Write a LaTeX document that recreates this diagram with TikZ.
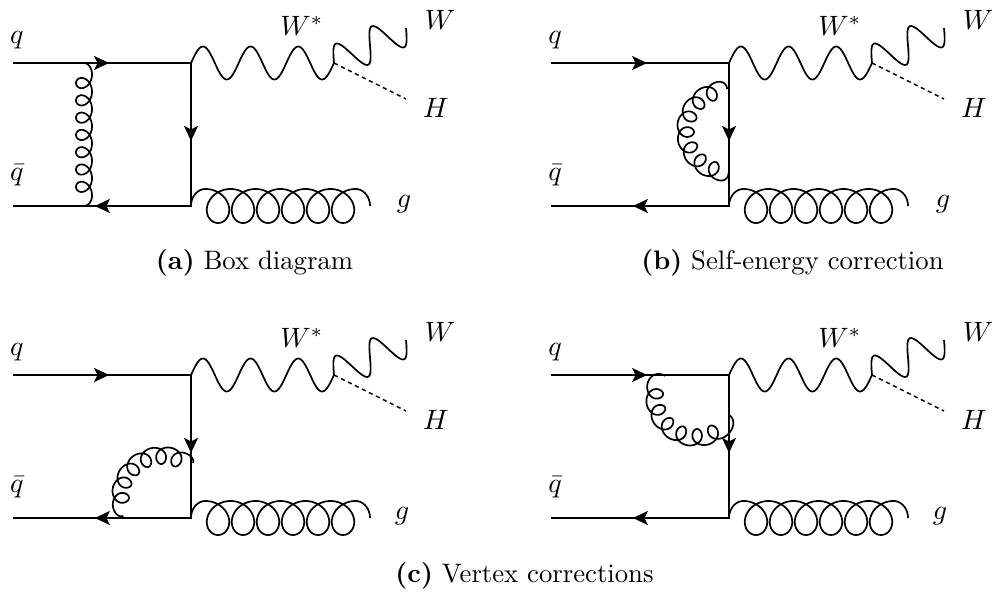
\documentclass[tikz,border=0pt]{standalone}
\usepackage{fontspec}
\usetikzlibrary{calc,arrows.meta}
\tikzset{
  quark/.style={line width=2.1pt},
  qtip/.style={line width=2.1pt,-{Stealth[length=15pt,width=14pt,inset=3.5pt]}},
  gluon/.style={line width=1.7pt,line join=round},
  photon/.style={line width=1.7pt,line join=round},
  higgs/.style={line width=1.5pt,dash pattern=on 4.2pt off 3.6pt},
  lab/.style={scale=2.8,inner sep=0pt},
  captext/.style={scale=2.67,inner sep=0pt,anchor=base}
}
% bottom outgoing gluon
\newcommand{\bottomgluon}{%
  \draw[gluon] plot[domain=-90:0,samples=25] ({205.5+14.5*sin(\x)},{206-17*cos(\x)})
    -- plot[domain=0:2160,samples=361] ({205.5+\x/360*25+17*sin(\x)},{206-17*cos(\x)})
    -- plot[domain=0:90,samples=25] ({355.5+14.5*sin(\x)},{206-17*cos(\x)});}
% #1 cx, #2 cy, #3 first peak angle, #4 step, #5 loops, #6 start angle, #7 end angle, #8 start radius, #9 end radius
\newcommand{\arcgluon}[9]{%
  \pgfmathsetmacro{\lastp}{#3+#4*#5}
  \pgfmathsetmacro{\mainend}{360*#5}
  \pgfmathsetmacro{\nsamp}{60*#5+1}
  \draw[gluon] plot[domain=-90:0,samples=25] ({#1+(#8+(50-#8)*cos(\x))*cos(#3+(#3-#6)*sin(\x))},{#2-(#8+(50-#8)*cos(\x))*sin(#3+(#3-#6)*sin(\x))})
    -- plot[domain=0:\mainend,samples=\nsamp] ({#1+(41.5+8.5*cos(\x))*cos(#3+\x/360*#4+12.3*sin(\x))},{#2-(41.5+8.5*cos(\x))*sin(#3+\x/360*#4+12.3*sin(\x))})
    -- plot[domain=0:90,samples=25] ({#1+(#9+(50-#9)*cos(\x))*cos(\lastp+(#7-\lastp)*sin(\x))},{#2-(#9+(50-#9)*cos(\x))*sin(\lastp+(#7-\lastp)*sin(\x))});}
% common diagram: #1 name prefix, #2 g label x, #3 extra gluon
\newcommand{\feyn}[3]{%
  \coordinate (#1i1) at (13,63);
  \coordinate (#1i2) at (13,206);
  \coordinate (#1v1) at (191,63);
  \coordinate (#1v2) at (191,206);
  \coordinate (#1w) at (334,63);
  \coordinate (#1wf) at (406,28);
  \coordinate (#1hf) at (406,99);
  \draw[quark] (#1i1) -- (#1v1) -- (#1v2) -- (#1i2);
  \draw[qtip] (#1i1) -- ($(#1i1)!.54!(#1v1)$);
  \draw[qtip] (#1v1) -- ($(#1v1)!.545!(#1v2)$);
  \draw[qtip] (#1v2) -- ($(#1v2)!.54!(#1i2)$);
  \draw[photon] (#1v1) -- plot[domain=0:1080,samples=121] ({191+\x/1080*143},{63-16.5*sin(\x)}) -- (#1w);
  \draw[photon] (#1w) -- plot[domain=0:720,samples=81] ({334+\x/720*72-16.5*0.437*sin(\x)},{63-\x/720*35-16.5*0.9*sin(\x)}) -- (#1wf);
  \draw[higgs] (#1w) -- (#1hf);
  \bottomgluon
  #3
  \node[lab] (#1lq) at (17,40) {$q$};
  \node[lab] (#1lqb) at (17,175) {$\bar q$};
  \node[lab] (#1lws) at (302,26) {$W^*$};
  \node[lab] (#1lw) at (440,20) {$W$};
  \node[lab] (#1lh) at (436,108) {$H$};
  \node[lab] (#1lg) at (#2,204) {$g$};
}
\begin{document}
\begin{tikzpicture}[x=1pt,y=-1pt]
\useasboundingbox (0,0) rectangle (994,594);
\begin{scope}
  \feyn{a}{404}{%
    \draw[gluon] plot[domain=-90:0,samples=25] ({84+8*cos(\x)},{74.4+11.4*sin(\x)})
      -- plot[domain=0:2520,samples=421] ({84+8*cos(\x)},{74.4+\x/360*17.3+9*sin(\x)})
      -- plot[domain=0:90,samples=25] ({84+8*cos(\x)},{195.5+10.5*sin(\x)});}
\end{scope}
\begin{scope}[shift={(538,0)}]
  \feyn{b}{405}{\arcgluon{189}{131}{101}{23}{7}{90}{272}{42}{42}}
\end{scope}
\begin{scope}[shift={(0,312)}]
  \feyn{c}{402}{\arcgluon{162}{185}{57.5}{22.5}{6}{48}{206}{46}{43}}
\end{scope}
\begin{scope}[shift={(538,312)}]
  \feyn{d}{402}{\arcgluon{158}{84}{165}{23.7}{6}{147}{330}{36.9}{38}}
\end{scope}
\node[captext] (capa) at (254.5,269) {\textbf{(a)} Box diagram};
\node[captext] (capb) at (792.5,269) {\textbf{(b)} Self-energy correction};
\node[captext] (capc) at (524.5,582) {\textbf{(c)} Vertex corrections};
\end{tikzpicture}
\end{document}
